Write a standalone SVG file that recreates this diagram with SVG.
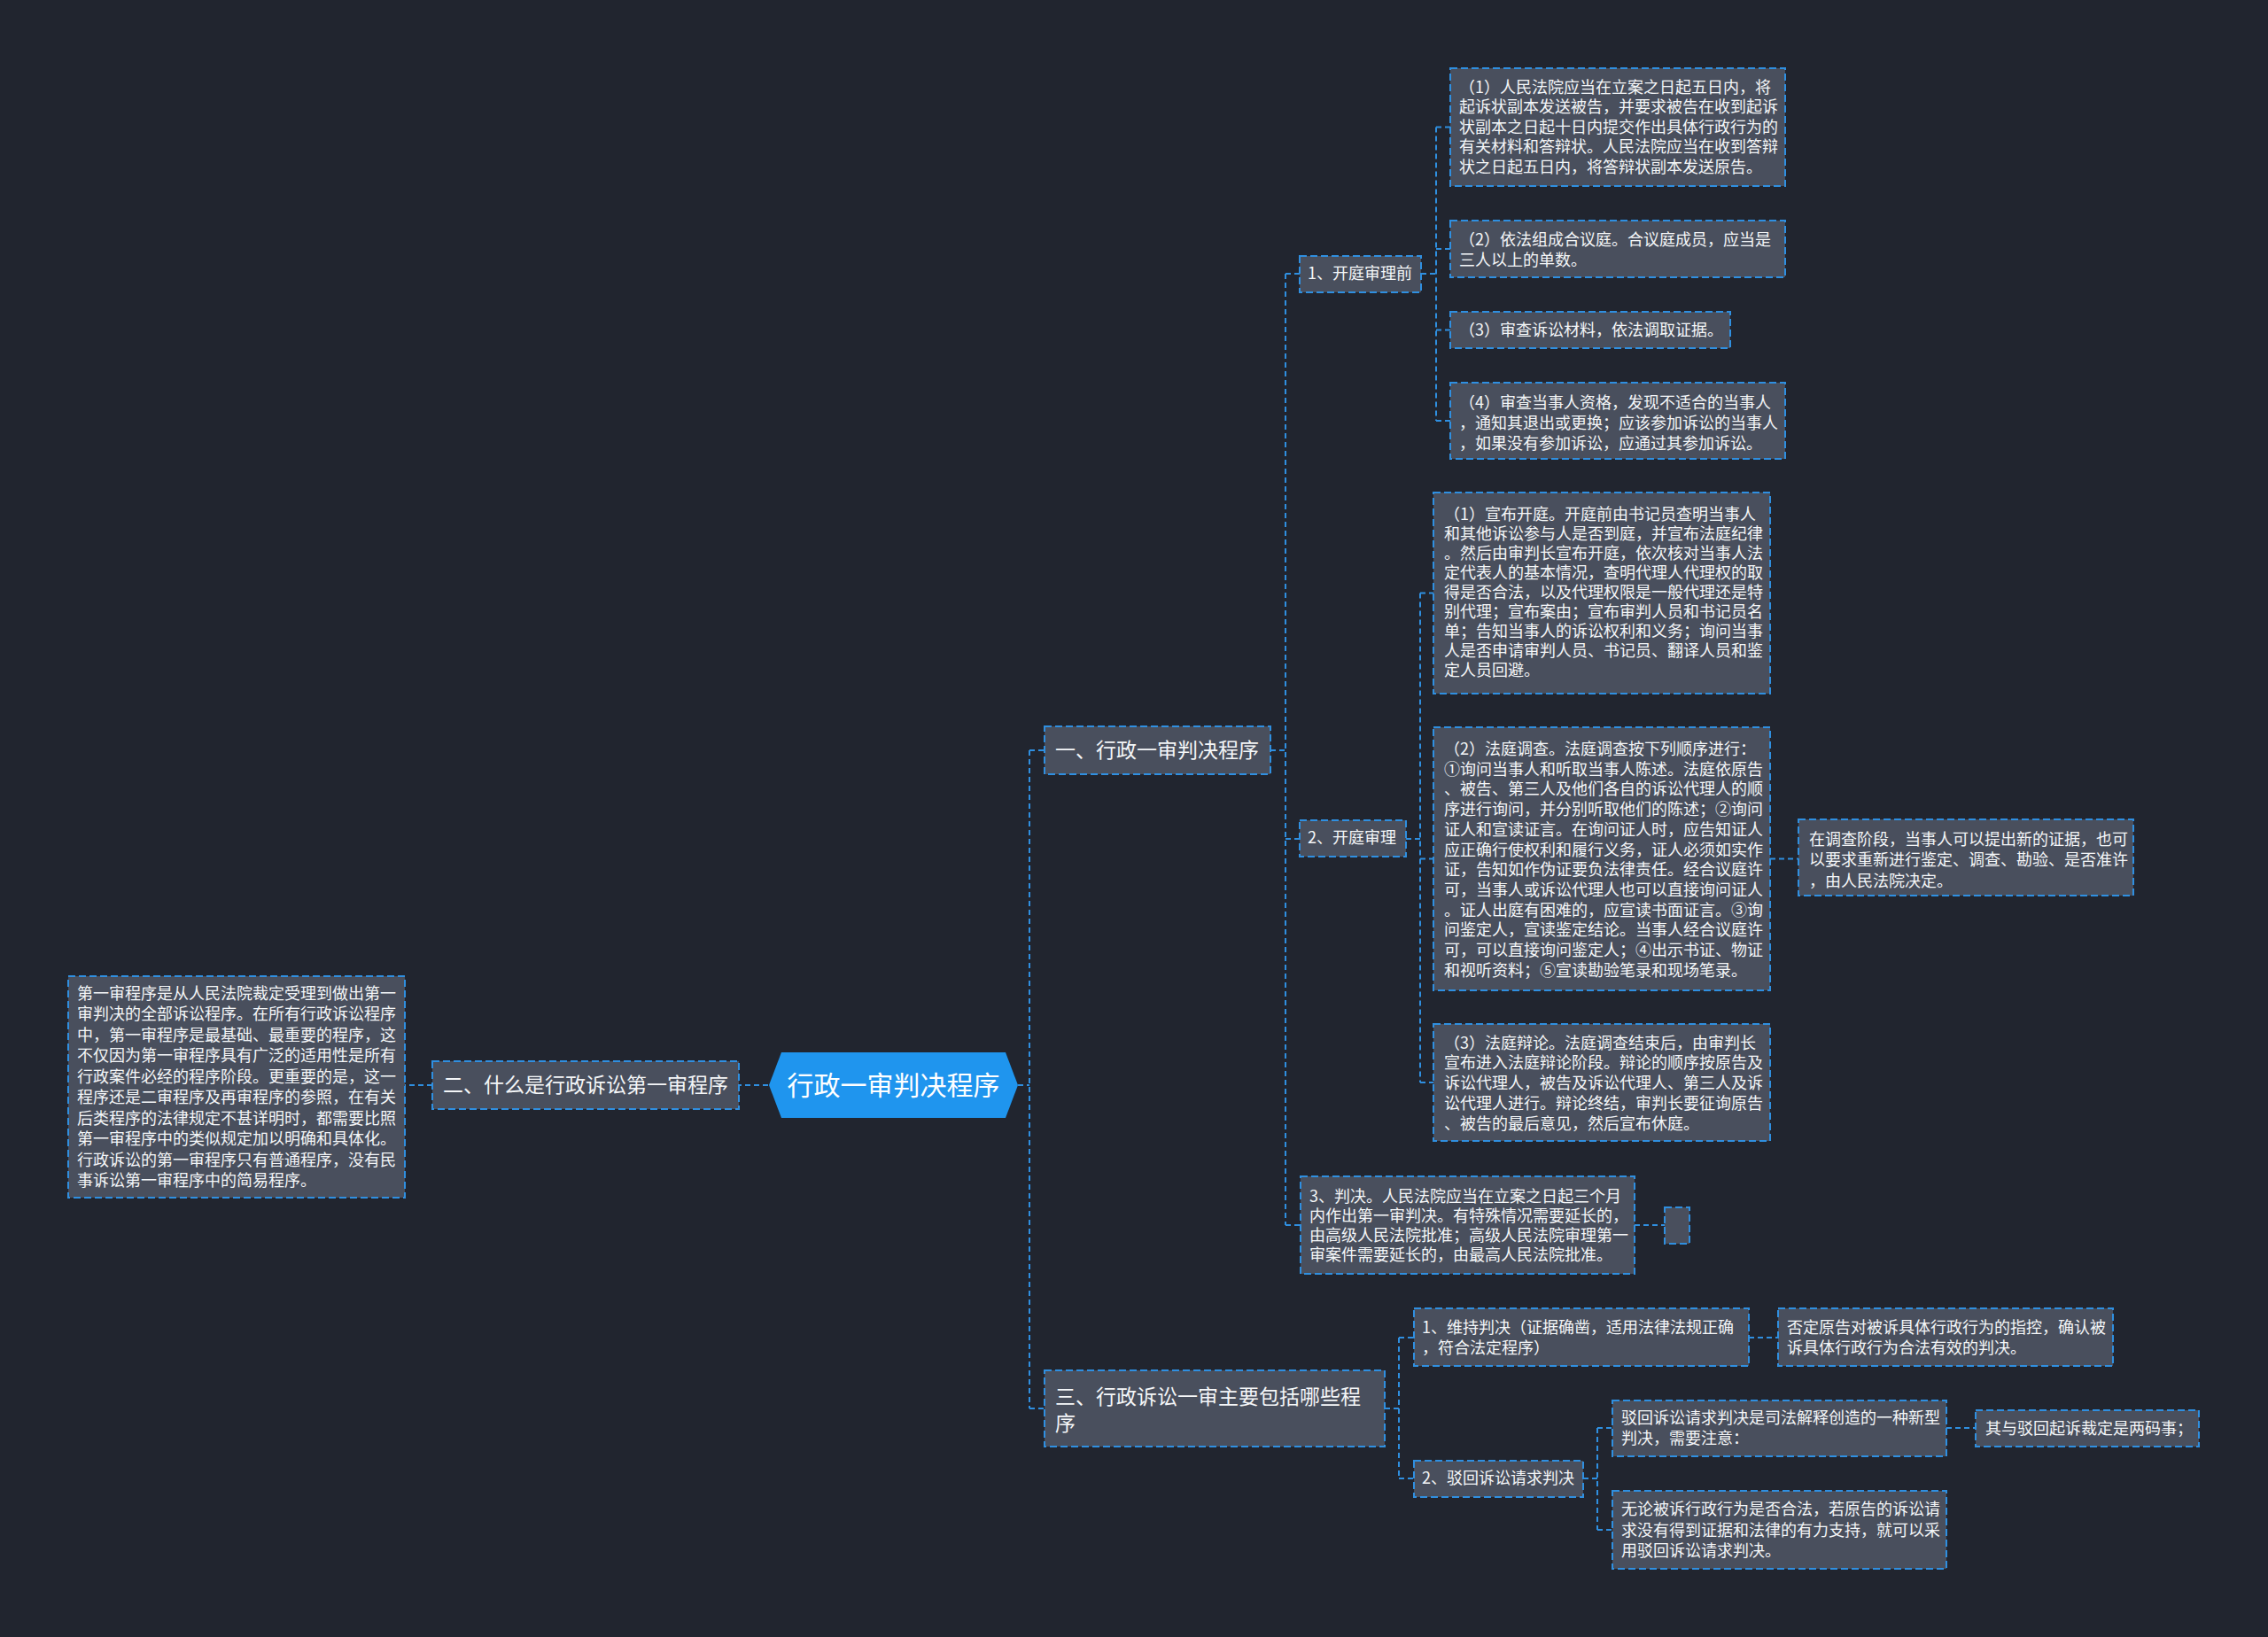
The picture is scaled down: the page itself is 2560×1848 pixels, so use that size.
<svg xmlns="http://www.w3.org/2000/svg" width="2560" height="1848" viewBox="0 0 2560 1848">
<style>
.bg{fill:#21252f}
.n rect{fill:#494f5d;stroke:#2f8fe0;stroke-width:2;stroke-dasharray:8 4}
text{font-family:"Noto Sans CJK SC","Noto Sans",sans-serif;fill:#f4f6f8;font-size:18px;dominant-baseline:central;transform:translateY(-2.5px)}
.l text{font-size:23px}
.root polygon{fill:#1f95ee}
.root text{font-size:30px;fill:#ffffff;text-anchor:middle}
.c path{fill:none;stroke:#2f8fe0;stroke-width:2;stroke-dasharray:6 4}
</style>
<rect class="bg" x="0" y="0" width="2560" height="1848"/>
<g class="c" id="connectors">
<path d="M867,1225H834"/>
<path d="M488,1225H457"/>
<path d="M1149,1225H1162M1162,847V1590M1162,847H1179M1162,1590H1179"/>
<path d="M1434,847H1451M1451,309V1383M1451,309H1467M1451,947H1467M1451,1383H1468"/>
<path d="M1604,309H1621M1621,143.5V475M1621,143.5H1637M1621,281H1637M1621,372.5H1637M1621,475H1637"/>
<path d="M1587,947H1603M1603,669.5V1222M1603,669.5H1618M1603,969.5H1618M1603,1222H1618"/>
<path d="M1998,969.5H2030"/>
<path d="M1845,1383H1879"/>
<path d="M1563,1590H1579M1579,1510V1669M1579,1510H1596M1579,1669H1596"/>
<path d="M1974,1510H2007"/>
<path d="M1787,1669H1803M1803,1612V1727M1803,1612H1820M1803,1727H1820"/>
<path d="M2197,1612H2230"/>
</g>
<g class="root" id="root">
<polygon points="868,1225 882,1188 1135,1188 1149,1225 1135,1262 882,1262"/>
<text x="1008.5" y="1225">行政一审判决程序</text>
</g>
<g class="n l" id="n2">
<rect x="488" y="1198" width="346" height="54"/>
<text x="500" y="1225">二、什么是行政诉讼第一审程序</text>
</g>
<g class="n" id="n2a">
<rect x="77" y="1102" width="380" height="250"/>
<text x="87"><tspan x="87" y="1122">第一审程序是从人民法院裁定受理到做出第一</tspan><tspan x="87" y="1145.5">审判决的全部诉讼程序。在所有行政诉讼程序</tspan><tspan x="87" y="1169">中，第一审程序是最基础、最重要的程序，这</tspan><tspan x="87" y="1192.5">不仅因为第一审程序具有广泛的适用性是所有</tspan><tspan x="87" y="1216">行政案件必经的程序阶段。更重要的是，这一</tspan><tspan x="87" y="1239.5">程序还是二审程序及再审程序的参照，在有关</tspan><tspan x="87" y="1263">后类程序的法律规定不甚详明时，都需要比照</tspan><tspan x="87" y="1286.5">第一审程序中的类似规定加以明确和具体化。</tspan><tspan x="87" y="1310">行政诉讼的第一审程序只有普通程序，没有民</tspan><tspan x="87" y="1333.5">事诉讼第一审程序中的简易程序。</tspan></text>
</g>
<g class="n l" id="n1">
<rect x="1179" y="820" width="255" height="54"/>
<text x="1191" y="847">一、行政一审判决程序</text>
</g>
<g class="n l" id="n3">
<rect x="1179" y="1547" width="384" height="86"/>
<text x="1191"><tspan x="1191" y="1577">三、行政诉讼一审主要包括哪些程</tspan><tspan x="1191" y="1607">序</tspan></text>
</g>
<g class="n" id="n1a">
<rect x="1467" y="289" width="137" height="41"/>
<text x="1476" y="309.5">1、开庭审理前</text>
</g>
<g class="n" id="n1b">
<rect x="1467" y="926" width="120" height="41"/>
<text x="1476" y="946.5">2、开庭审理</text>
</g>
<g class="n" id="n1c">
<rect x="1468" y="1328" width="377" height="110"/>
<text x="1478"><tspan x="1478" y="1351.5">3、判决。人民法院应当在立案之日起三个月</tspan><tspan x="1478" y="1373.5">内作出第一审判决。有特殊情况需要延长的，</tspan><tspan x="1478" y="1395.5">由高级人民法院批准；高级人民法院审理第一</tspan><tspan x="1478" y="1417.5">审案件需要延长的，由最高人民法院批准。</tspan></text>
</g>
<g class="n" id="n1c1">
<rect x="1879" y="1363" width="28" height="41"/>
</g>
<g class="n" id="n1a1">
<rect x="1637" y="77" width="378" height="133"/>
<text x="1647"><tspan x="1647" y="99">（1）人民法院应当在立案之日起五日内，将</tspan><tspan x="1647" y="121.5">起诉状副本发送被告，并要求被告在收到起诉</tspan><tspan x="1647" y="144">状副本之日起十日内提交作出具体行政行为的</tspan><tspan x="1647" y="166.5">有关材料和答辩状。人民法院应当在收到答辩</tspan><tspan x="1647" y="189">状之日起五日内，将答辩状副本发送原告。</tspan></text>
</g>
<g class="n" id="n1a2">
<rect x="1637" y="249" width="378" height="64"/>
<text x="1647"><tspan x="1647" y="271.5">（2）依法组成合议庭。合议庭成员，应当是</tspan><tspan x="1647" y="294.5">三人以上的单数。</tspan></text>
</g>
<g class="n" id="n1a3">
<rect x="1637" y="352" width="316" height="41"/>
<text x="1647" y="373">（3）审查诉讼材料，依法调取证据。</text>
</g>
<g class="n" id="n1a4">
<rect x="1637" y="432" width="378" height="86"/>
<text x="1647"><tspan x="1647" y="455">（4）审查当事人资格，发现不适合的当事人</tspan><tspan x="1647" y="478">，通知其退出或更换；应该参加诉讼的当事人</tspan><tspan x="1647" y="501">，如果没有参加诉讼，应通过其参加诉讼。</tspan></text>
</g>
<g class="n" id="n1b1">
<rect x="1618" y="556" width="380" height="227"/>
<text x="1630"><tspan x="1630" y="581.5">（1）宣布开庭。开庭前由书记员查明当事人</tspan><tspan x="1630" y="603.5">和其他诉讼参与人是否到庭，并宣布法庭纪律</tspan><tspan x="1630" y="625.5">。然后由审判长宣布开庭，依次核对当事人法</tspan><tspan x="1630" y="647.5">定代表人的基本情况，查明代理人代理权的取</tspan><tspan x="1630" y="669.5">得是否合法，以及代理权限是一般代理还是特</tspan><tspan x="1630" y="691.5">别代理；宣布案由；宣布审判人员和书记员名</tspan><tspan x="1630" y="713.5">单；告知当事人的诉讼权利和义务；询问当事</tspan><tspan x="1630" y="735.5">人是否申请审判人员、书记员、翻译人员和鉴</tspan><tspan x="1630" y="757.5">定人员回避。</tspan></text>
</g>
<g class="n" id="n1b2">
<rect x="1618" y="821" width="380" height="297"/>
<text x="1630"><tspan x="1630" y="846.5">（2）法庭调查。法庭调查按下列顺序进行：</tspan><tspan x="1630" y="869.2">①询问当事人和听取当事人陈述。法庭依原告</tspan><tspan x="1630" y="891.9">、被告、第三人及他们各自的诉讼代理人的顺</tspan><tspan x="1630" y="914.6">序进行询问，并分别听取他们的陈述；②询问</tspan><tspan x="1630" y="937.3">证人和宣读证言。在询问证人时，应告知证人</tspan><tspan x="1630" y="960">应正确行使权利和履行义务，证人必须如实作</tspan><tspan x="1630" y="982.7">证，告知如作伪证要负法律责任。经合议庭许</tspan><tspan x="1630" y="1005.4">可，当事人或诉讼代理人也可以直接询问证人</tspan><tspan x="1630" y="1028.1">。证人出庭有困难的，应宣读书面证言。③询</tspan><tspan x="1630" y="1050.8">问鉴定人，宣读鉴定结论。当事人经合议庭许</tspan><tspan x="1630" y="1073.5">可，可以直接询问鉴定人；④出示书证、物证</tspan><tspan x="1630" y="1096.2">和视听资料；⑤宣读勘验笔录和现场笔录。</tspan></text>
</g>
<g class="n" id="n1b2a">
<rect x="2030" y="925" width="378" height="86"/>
<text x="2042"><tspan x="2042" y="948">在调查阶段，当事人可以提出新的证据，也可</tspan><tspan x="2042" y="971.5">以要求重新进行鉴定、调查、勘验、是否准许</tspan><tspan x="2042" y="995">，由人民法院决定。</tspan></text>
</g>
<g class="n" id="n1b3">
<rect x="1618" y="1156" width="380" height="132"/>
<text x="1630"><tspan x="1630" y="1178">（3）法庭辩论。法庭调查结束后，由审判长</tspan><tspan x="1630" y="1200.8">宣布进入法庭辩论阶段。辩论的顺序按原告及</tspan><tspan x="1630" y="1223.6">诉讼代理人，被告及诉讼代理人、第三人及诉</tspan><tspan x="1630" y="1246.4">讼代理人进行。辩论终结，审判长要征询原告</tspan><tspan x="1630" y="1269.2">、被告的最后意见，然后宣布休庭。</tspan></text>
</g>
<g class="n" id="n3a">
<rect x="1596" y="1477" width="378" height="65"/>
<text x="1605"><tspan x="1605" y="1499">1、维持判决（证据确凿，适用法律法规正确</tspan><tspan x="1605" y="1522.5">，符合法定程序）</tspan></text>
</g>
<g class="n" id="n3a1">
<rect x="2007" y="1477" width="378" height="65"/>
<text x="2017"><tspan x="2017" y="1499">否定原告对被诉具体行政行为的指控，确认被</tspan><tspan x="2017" y="1522.5">诉具体行政行为合法有效的判决。</tspan></text>
</g>
<g class="n" id="n3b">
<rect x="1596" y="1649" width="191" height="41"/>
<text x="1605" y="1669.5">2、驳回诉讼请求判决</text>
</g>
<g class="n" id="n3b1">
<rect x="1820" y="1581" width="377" height="63"/>
<text x="1830"><tspan x="1830" y="1601.5">驳回诉讼请求判决是司法解释创造的一种新型</tspan><tspan x="1830" y="1624.5">判决，需要注意：</tspan></text>
</g>
<g class="n" id="n3b1a">
<rect x="2230" y="1592" width="252" height="41"/>
<text x="2241" y="1613">其与驳回起诉裁定是两码事；</text>
</g>
<g class="n" id="n3b2">
<rect x="1820" y="1683" width="377" height="88"/>
<text x="1830"><tspan x="1830" y="1704.5">无论被诉行政行为是否合法，若原告的诉讼请</tspan><tspan x="1830" y="1728">求没有得到证据和法律的有力支持，就可以采</tspan><tspan x="1830" y="1751.5">用驳回诉讼请求判决。</tspan></text>
</g>
</svg>
